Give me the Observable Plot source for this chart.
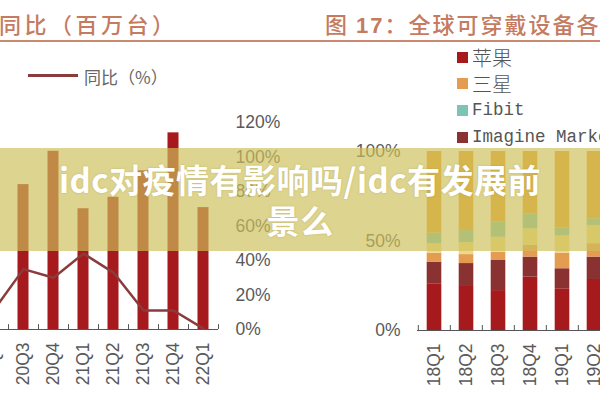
<!DOCTYPE html>
<html>
<head>
<meta charset="utf-8">
<script src="https://cdn.jsdelivr.net/npm/d3@7"></script>
<script src="https://cdn.jsdelivr.net/npm/@observablehq/plot@0.6"></script>
<style>
  html, body { margin: 0; padding: 0; background: #fff; }
  #page { position: relative; width: 600px; height: 400px; overflow: hidden; background: #fff; }
  .title { position: absolute; top: 8px; font-family: "Noto Sans CJK SC", sans-serif; font-weight: 500;
           font-size: 22px; line-height: 30px; color: #c47b60; white-space: nowrap; }
  .title b { font-family: "Liberation Sans", Arial, sans-serif; font-weight: 700; }
  .rule { position: absolute; left: 0; top: 40px; width: 600px; height: 2px; background: #c98a70; }
  .chart { position: absolute; top: 0; height: 400px; }
  .chart svg { max-width: none; overflow: visible; }
  .lg-line { position: absolute; left: 28px; top: 74px; width: 50px; height: 3px; background: #8b3b3b; }
  .lg-text { position: absolute; left: 84px; top: 64px; font-family: "Noto Sans CJK SC", sans-serif;
             font-size: 17px; line-height: 26px; color: #666; white-space: nowrap; }
  .sw { position: absolute; left: 457px; display: flex; align-items: center; white-space: nowrap; color: #555; }
  .sw i { display: inline-block; width: 11px; height: 11px; margin-right: 4px; }
  .sw.cjk { font-family: "Noto Sans CJK SC", sans-serif; font-weight: 300; font-size: 20px; }
  .sw.lat { font-family: "Liberation Mono", monospace; font-size: 17.5px; }
  .banner { position: absolute; left: 0; top: 148px; width: 600px; height: 103px; background: rgba(205, 192, 90, 0.68); }
  .headline { position: absolute; left: 0; top: 159px; width: 600px; text-align: center;
              font-family: "Noto Sans CJK SC", sans-serif; font-weight: 700; font-size: 33px; line-height: 41px;
              letter-spacing: 0.5px; color: #fff; text-shadow: 0 0 2px rgba(140, 120, 40, 0.35); }
</style>
</head>
<body>
<div id="page">
  <div class="title" style="left:-1px; letter-spacing:3.5px;">同比（百万台）</div>
  <div class="title" style="left:325px; letter-spacing:2px;">图 <b>17</b>：全球可穿戴设备各品牌份额</div>
  <div class="rule"></div>
  <div class="lg-line"></div>
  <div class="lg-text">同比（%）</div>
  <div id="left-bars" class="chart" style="left:-40px; width:320px;"></div>
  <div id="left-line" class="chart" style="left:-40px; width:320px;"></div>
  <div id="right-bars" class="chart" style="left:330px; width:300px;"></div>
  <div id="right-axes" class="chart" style="left:330px; width:300px;"></div>
  <div id="legend"></div>
  <div class="banner"></div>
  <div class="headline">idc对疫情有影响吗/idc有发展前<br>景么</div>
</div>
<script>
// Quarterly wearable shipments (million units) and year-over-year growth (%)
const shipQuarters = ["20Q2", "20Q3", "20Q4", "21Q1", "21Q2", "21Q3", "21Q4", "22Q1"];
const shipments    = [87, 126, 155, 105, 115, 138, 171, 106];
const yoyGrowth    = [11, 35, 30, 44, 33, 11, 11, 0.5];
const yoyTicks     = [0, 20, 40, 60, 80, 100, 120];

// Brand share of wearable shipments (%), stacked bottom to top
const shareQuarters = ["18Q1", "18Q2", "18Q3", "18Q4", "19Q1", "19Q2"];
const brands        = ["苹果", "Imagine Markets", "三星", "华为", "Fibit", "其他"];
const appleShare    = [26.1, 25.1, 22.3, 29.8, 23.3, 28.5];
const imagineShare  = [12.1, 12.3, 16.8, 11.2, 11.2, 12.5];
const samsungShare  = [5.0, 5.0, 4.6, 6.5, 8.7, 7.5];
const huaweiShare   = [5.3, 6.7, 8.4, 9.3, 9.6, 10.2];
const fitbitShare   = [5.9, 6.7, 8.4, 8.4, 4.5, 3.7];
const otherShare    = [45.6, 44.2, 39.5, 34.8, 42.7, 37.6];
const shareTicks    = [0, 50, 100];

// Legend entries shown beside the share chart
const legendBrands = ["苹果", "三星", "Fibit", "Imagine Markets"];

const RED = "#a6191c", LINE = "#8b3b3b", AXIS = "#555", LABEL = "#595959";
const brandColors = {"苹果": RED, "Imagine Markets": "#8a3131", "三星": "#e39c50",
                     "华为": "#efd986", "Fibit": "#7cc4b4", "其他": "#e8a032"};

const axisFont = {fontFamily: "'Liberation Sans', Arial, sans-serif", background: "transparent", overflow: "visible"};

// Left: shipments (bars) with growth line on a right-hand percent axis
const shipRows = shipQuarters.map((q, i) => ({quarter: q, shipments: shipments[i], yoy: yoyGrowth[i]}));
const leftBox = {width: 320, height: 400, marginLeft: 18, marginRight: 62, marginTop: 122, marginBottom: 71};
const shipStep = (leftBox.width - leftBox.marginLeft - leftBox.marginRight) / shipQuarters.length;

document.getElementById("left-bars").append(Plot.plot({
  ...leftBox, style: axisFont,
  x: {type: "band", domain: shipQuarters, padding: 0, axis: null},
  y: {domain: [0, 180], axis: null},
  marks: [
    Plot.barY(shipRows, {x: "quarter", y: "shipments", fill: RED, insetLeft: 9.5, insetRight: 9.5})
  ]
}));

document.getElementById("left-line").append(Plot.plot({
  ...leftBox, style: axisFont,
  x: {type: "point", domain: shipQuarters, padding: 0.5, axis: null},
  y: {domain: [0, 120], axis: null},
  marks: [
    Plot.ruleY([0], {stroke: AXIS}),
    Plot.ruleX(shipQuarters, {x: d => d, dx: -shipStep / 2, y1: 0, y2: 2.8, stroke: AXIS}),
    Plot.ruleX(shipQuarters.slice(-1), {x: d => d, dx: shipStep / 2, y1: 0, y2: 2.8, stroke: AXIS}),
    Plot.line(shipRows, {x: "quarter", y: "yoy", stroke: LINE, strokeWidth: 2.5}),
    Plot.axisX({anchor: "bottom", tickRotate: -90, tickSize: 0, tickPadding: 13, fontSize: 17.5, color: LABEL, label: null}),
    Plot.axisY({anchor: "right", ticks: yoyTicks, tickFormat: d => d + "%", tickSize: 0, tickPadding: 17,
                fontSize: 17.5, color: LABEL, label: null})
  ]
}));

// Right: 100% stacked brand share
const shareSeries = [appleShare, imagineShare, samsungShare, huaweiShare, fitbitShare, otherShare];
const shareRows = shareQuarters.flatMap((q, i) => brands.map((b, k) => ({quarter: q, brand: b, share: shareSeries[k][i]})));
const rightBox = {width: 300, height: 400, marginLeft: 87, marginRight: 19, marginTop: 151, marginBottom: 70};
const shareStep = (rightBox.width - rightBox.marginLeft - rightBox.marginRight) / shareQuarters.length;

document.getElementById("right-bars").append(Plot.plot({
  ...rightBox, style: axisFont,
  x: {type: "band", domain: shareQuarters, padding: 0, axis: null},
  y: {domain: [0, 100], axis: null},
  color: {domain: brands, range: brands.map(b => brandColors[b])},
  marks: [
    Plot.barY(shareRows, {x: "quarter", y: "share", fill: "brand", order: brands, insetLeft: 8.7, insetRight: 8.7})
  ]
}));

document.getElementById("right-axes").append(Plot.plot({
  ...rightBox, style: axisFont,
  x: {type: "point", domain: shareQuarters, padding: 0.5, axis: null},
  y: {domain: [0, 100], axis: null},
  marks: [
    Plot.ruleY([0], {stroke: AXIS}),
    Plot.ruleX(shareQuarters, {x: d => d, dx: -shareStep / 2, y1: 0, y2: 2.8, stroke: AXIS}),
    Plot.axisX({anchor: "bottom", tickRotate: -90, tickSize: 0, tickPadding: 13, fontSize: 17.5, color: LABEL, label: null}),
    Plot.axisY({anchor: "left", ticks: shareTicks, tickFormat: d => d + "%", tickSize: 0, tickPadding: 17,
                fontSize: 17.5, color: LABEL, label: null})
  ]
}));

// Swatch legend for the share chart
const legend = document.getElementById("legend");
legendBrands.forEach((b, i) => {
  const row = document.createElement("div");
  row.className = "sw " + (/^[A-Za-z]/.test(b) ? "lat" : "cjk");
  row.style.top = (44 + i * 26.7) + "px";
  row.style.height = "26px";
  const box = document.createElement("i");
  box.style.background = brandColors[b];
  row.append(box, document.createTextNode(b));
  legend.append(row);
});
</script>
</body>
</html>
